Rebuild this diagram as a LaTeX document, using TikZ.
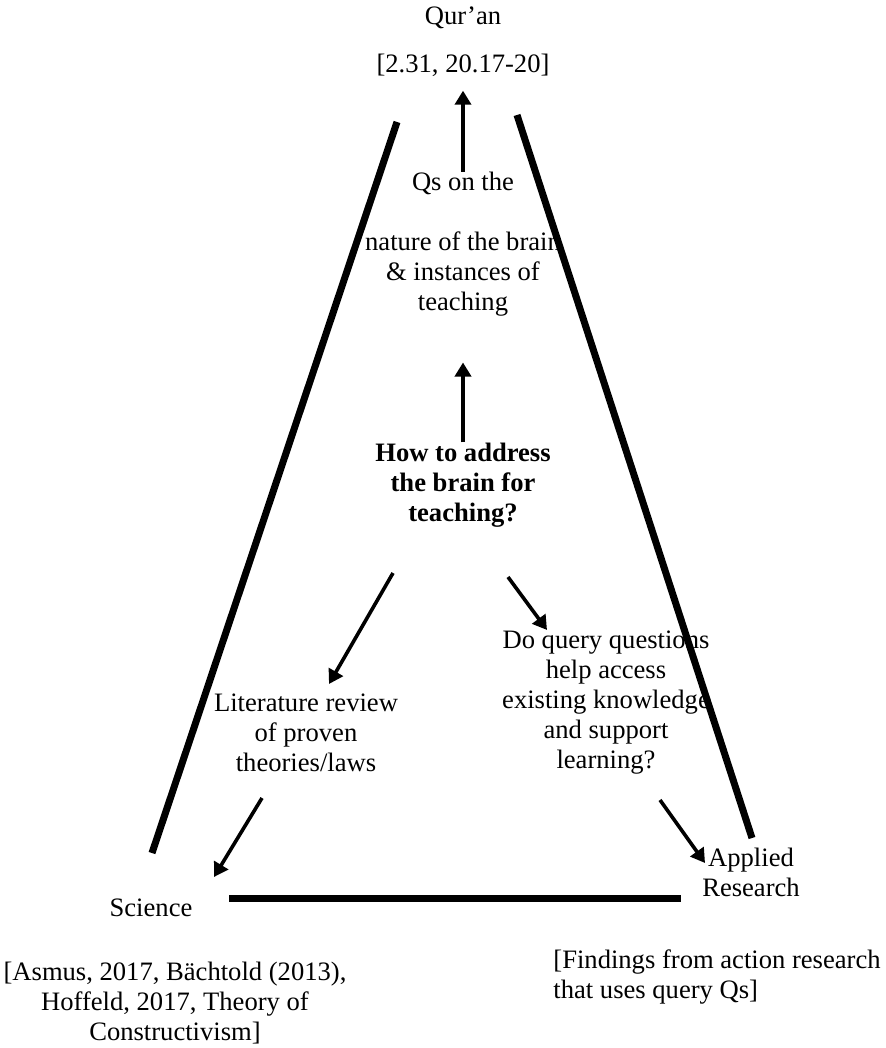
\documentclass[tikz,border=0pt]{standalone}
\usepackage{fontspec}
\setmainfont{Liberation Serif}
\usetikzlibrary{arrows.meta}
\tikzset{
  txt/.style={inner sep=0pt, align=center, font=\fontsize{13.3}{15}\selectfont},
  side/.style={line width=3.5pt},
  arr/.style={line width=1.8pt, -{Triangle[length=7pt,width=8pt]}},
}
\begin{document}
\begin{tikzpicture}[x=0.5pt,y=-0.5pt]
\useasboundingbox (0,0) rectangle (886,1048);
% Top: source
\node[txt] (quran) at (463,18) {Qur'an};
\node[txt] (qref) at (463,65) {[2.31, 20.17-20]};
% Questions inside the triangle
\node[txt] (qs) at (463,244) {Qs on the\\[15pt]nature of the brain\\ \& instances of\\ teaching};
\node[txt, font=\fontsize{13.3}{15}\selectfont\bfseries] (how) at (463,485) {How to address\\ the brain for\\ teaching?};
\node[txt] (lit) at (306,733) {Literature review\\ of proven\\ theories/laws};
\node[txt] (doq) at (606,703) {Do query questions\\ help access\\ existing knowledge\\ and support\\ learning?};
% Corners
\node[txt] (sci) at (151,908) {Science};
\node[txt] (sciref) at (175,1003) {[Asmus, 2017, B\"achtold (2013),\\ Hoffeld, 2017, Theory of\\ Constructivism]};
\node[txt] (app) at (751,872) {Applied\\ Research};
\node[txt, align=left, anchor=west] (appref) at (553,977) {[Findings from action research\\ that uses query Qs]};
% Triangle sides
\coordinate (lt) at (397,122);
\coordinate (lb) at (152,853);
\coordinate (rt) at (517,115);
\coordinate (rb) at (752,838);
\coordinate (bl) at (229,898);
\coordinate (br) at (681,898);
\draw[side] (lt) -- (lb);
\draw[side] (rt) -- (rb);
\draw[side] (bl) -- (br);
% Arrow ends
\coordinate (how-l) at (393,573);
\coordinate (lit-in) at (329,684);
\coordinate (how-r) at (508,577);
\coordinate (doq-in) at (547,630);
\coordinate (lit-out) at (262,798);
\coordinate (sci-in) at (214,877);
\coordinate (doq-out) at (660,800);
\coordinate (app-in) at (705,863);
% Arrows
\draw[arr, line width=2pt] (qs.north) -- ([yshift=-7pt]qref.south);
\draw[arr, line width=2pt] (how.north) -- ([yshift=-23pt]qs.south);
\draw[arr] (how-l) -- (lit-in);
\draw[arr] (how-r) -- (doq-in);
\draw[arr] (lit-out) -- (sci-in);
\draw[arr] (doq-out) -- (app-in);
\end{tikzpicture}
\end{document}
